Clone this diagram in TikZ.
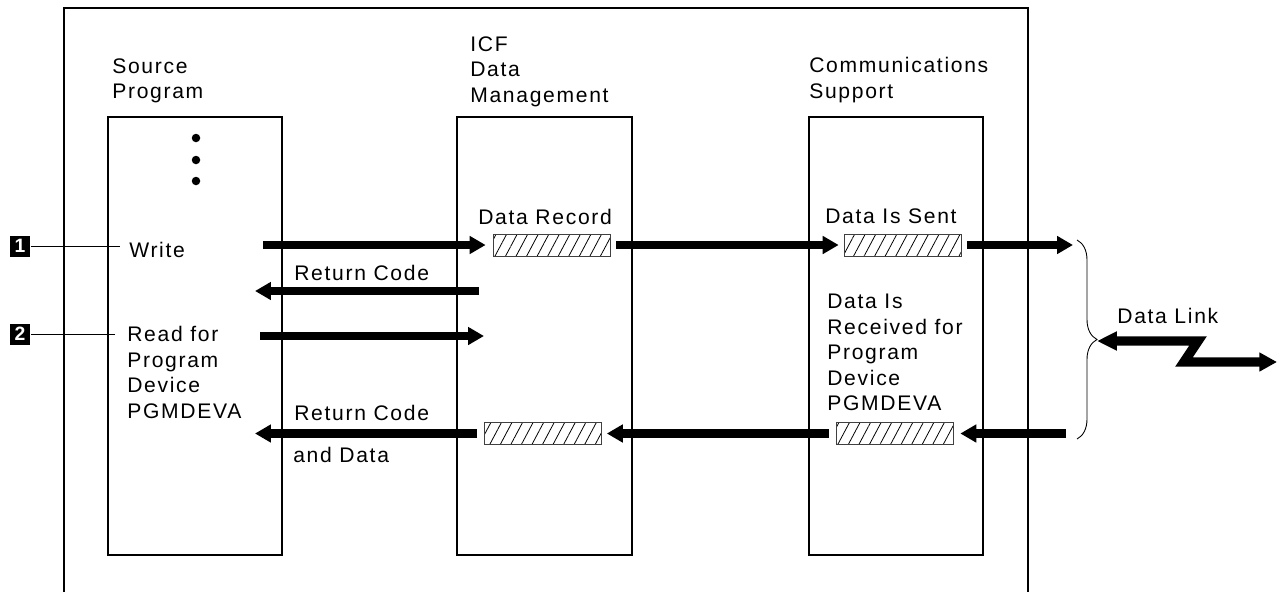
\documentclass[tikz,border=0pt]{standalone}
\usepackage{fontspec}
\setmainfont{Liberation Sans}[LetterSpace=8]
\usetikzlibrary{arrows.meta,patterns.meta,decorations.pathreplacing}

\tikzset{
	lbl/.style={anchor=north west, inner sep=0pt, align=left, font=\fontsize{12}{14.5}\selectfont},
	buf/.style={draw=black!75, line width=0.4pt, inner sep=0pt, minimum width=2.34cm, minimum height=0.44cm,
		pattern={Lines[angle=62,distance=5.3pt,line width=0.45pt]}},
	flow/.style={line width=4.6pt, -{Triangle[length=9.1pt,width=9.8pt]}},
	tag/.style={fill=black, text=white, inner sep=0pt, minimum size=0.42cm, font=\bfseries\fontsize{11}{11}\selectfont},
}

\begin{document}
\begin{tikzpicture}[x=0.02cm, y=-0.02cm]
		%%%%% START %%%%%
		\useasboundingbox (0,0) rectangle (1278,592);
		
		% frame, open at the bottom
		\draw[line width=0.6pt] (64,592) -- (64,8) -- (1028,8) -- (1028,592);
		
		% the three columns
		\draw[line width=0.6pt] (108,117) rectangle (282,555);
		\draw[line width=0.6pt] (457,117) rectangle (632,555);
		\draw[line width=0.6pt] (809,117) rectangle (983,555);
		
		\node[lbl] (srchd) at (112,58) {Source\\Program};
		\node[lbl] (icfhd) at (470,36) {ICF\\Data\\Management};
		\node[lbl] (comhd) at (809,57) {Communications\\Support};
		
		\foreach \y in {138,160,181}
			\fill (196,\y) circle[radius=0.085cm];
		
		% steps
		\node[tag] (t1) at (20,246) {1};
		\node[tag] (t2) at (20,334) {2};
		\coordinate (w1) at (120,246);
		\coordinate (w2) at (115,334);
		\draw[line width=0.5pt] (t1) -- (w1);
		\draw[line width=0.5pt] (t2) -- (w2);
		
		\node[lbl] (write) at (129,242) {Write};
		\node[lbl] (read) at (127,326) {Read for\\Program\\Device\\PGMDEVA};
		
		% records in flight
		\node[buf] (rec) at (551.5,245) {};
		\node[buf] (sent) at (902.5,245) {};
		\node[buf] (pass) at (543,433.5) {};
		\node[buf] (got) at (894.5,433.5) {};
		
		\node[lbl] (reclbl) at (478,209) {Data Record};
		\node[lbl] (sentlbl) at (825,208) {Data Is Sent};
		\node[lbl] (gotlbl) at (827,294) {Data Is\\Received for\\Program\\Device\\PGMDEVA};
		\node[lbl] (rc1) at (294,265) {Return Code};
		\node[lbl] (rc2) at (294,405) {Return Code};
		\node[lbl] (anddata) at (293,447) {and Data};
		
		% write
		\coordinate (wa) at (263,245);
		\draw[flow, shorten >=0.14cm] (wa) -- (rec.west);
		\draw[flow, shorten <=0.12cm, shorten >=0.1cm] (rec.east) -- (sent.west);
		\coordinate (lkin) at (1073,245);
		\draw[flow, shorten <=0.12cm] (sent.east) -- (lkin);
		\coordinate (ra) at (479,291);
		\coordinate (rb) at (255,291);
		\draw[flow] (ra) -- (rb);
		
		% read
		\coordinate (da) at (260,336);
		\coordinate (db) at (484,336);
		\draw[flow] (da) -- (db);
		\coordinate (lkout) at (1066,433.5);
		\draw[flow, shorten >=0.14cm] (lkout) -- (got.east);
		\draw[flow, shorten <=0.14cm, shorten >=0.1cm] (got.west) -- (pass.east);
		\coordinate (rd) at (255,433.5);
		\draw[flow, shorten <=0.14cm] (pass.west) -- (rd);
		
		% data link
		\coordinate (bt) at (1077,240);
		\coordinate (bb) at (1077,439);
		\draw[decorate, decoration={brace, amplitude=0.4cm}, line width=0.5pt] (bt) -- (bb);
		\node[lbl] (link) at (1117,308) {Data Link};
		\coordinate (dl0) at (1097,341);
		\coordinate (dl3) at (1277,362);
		\draw[line width=5.4pt, line join=miter, {Triangle[length=11.3pt,width=10.2pt]}-{Triangle[length=10pt,width=10.2pt]}]
			(dl0) -- (1198,341) -- (1184,362) -- (dl3);
		
		%%%%% END %%%%%
\end{tikzpicture}
\end{document}
